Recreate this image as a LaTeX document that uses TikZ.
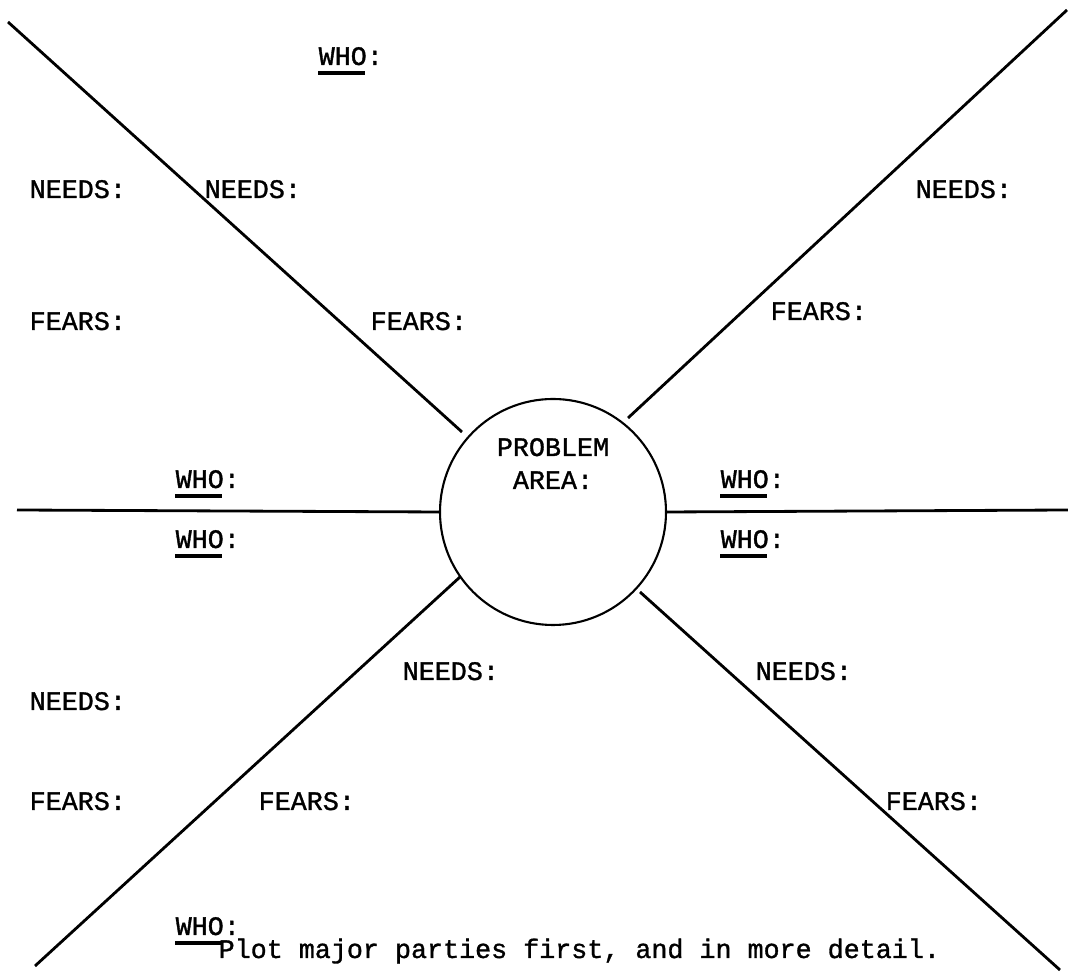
\documentclass[tikz,border=0pt]{standalone}
\usepackage{fontspec}
\setmonofont{Liberation Mono}[FakeBold=1.2]
\usetikzlibrary{positioning}
\tikzset{
  lbl/.style={anchor=base west,inner sep=0pt,font=\ttfamily\fontsize{7.6}{9}\selectfont},
  spoke/.style={line width=0.8pt},
}
\newcommand{\wholine}[1]{\draw[line width=0.9pt] ([yshift=-2.3pt]#1.base west) -- ++(0.47,0);}
\begin{document}
\begin{tikzpicture}
\useasboundingbox (0,0) rectangle (10.68,9.73);
\node[circle,draw,line width=0.6pt,minimum size=2.26cm] (prob) at (5.53,4.61) {};
\node[lbl,anchor=base] (probl) at (5.53,5.17) {PROBLEM};
\node[lbl,anchor=base] (area) at (5.53,4.84) {AREA:};
% spokes
\coordinate (ul) at (0.08,9.51);  \coordinate (uli) at (4.62,5.41);
\coordinate (ur) at (10.67,9.63); \coordinate (uri) at (6.28,5.55);
\coordinate (ml) at (0.17,4.63);
\coordinate (mr) at (10.68,4.63);
\coordinate (ll) at (0.35,0.07);  \coordinate (lli) at (4.60,3.96);
\coordinate (lr) at (10.60,0.03); \coordinate (lri) at (6.40,3.81);
\draw[spoke] (ul) -- (uli);
\draw[spoke] (ur) -- (uri);
\draw[spoke] (ml) -- (prob.west);
\draw[spoke] (mr) -- (prob.east);
\draw[spoke] (ll) -- (lli);
\draw[spoke] (lr) -- (lri);
% labels
\node[lbl] (whot) at (3.18,9.08) {WHO:};
\node[lbl] (needsa) at (0.29,7.75) {NEEDS:};
\node[lbl] (needsb) at (2.04,7.75) {NEEDS:};
\node[lbl] (fearsa) at (0.29,6.43) {FEARS:};
\node[lbl] (fearsb) at (3.70,6.43) {FEARS:};
\node[lbl] (needsc) at (9.15,7.75) {NEEDS:};
\node[lbl] (fearsc) at (7.70,6.53) {FEARS:};
\node[lbl] (whol) at (1.75,4.85) {WHO:};
\node[lbl] (whold) at (1.75,4.25) {WHO:};
\node[lbl] (whor) at (7.20,4.85) {WHO:};
\node[lbl] (whord) at (7.20,4.25) {WHO:};
\node[lbl] (needsd) at (0.29,2.63) {NEEDS:};
\node[lbl] (needse) at (4.02,2.93) {NEEDS:};
\node[lbl] (needsf) at (7.55,2.93) {NEEDS:};
\node[lbl] (fearsd) at (0.29,1.63) {FEARS:};
\node[lbl] (fearse) at (2.58,1.63) {FEARS:};
\node[lbl] (fearsf) at (8.85,1.63) {FEARS:};
\node[lbl] (whob) at (1.75,0.38) {WHO:};
\node[lbl] (plot) at (2.18,0.15) {Plot major parties first, and in more detail.};
% underlines
\foreach \w in {whot,whol,whold,whor,whord,whob} {\wholine{\w}}
\end{tikzpicture}
\end{document}
